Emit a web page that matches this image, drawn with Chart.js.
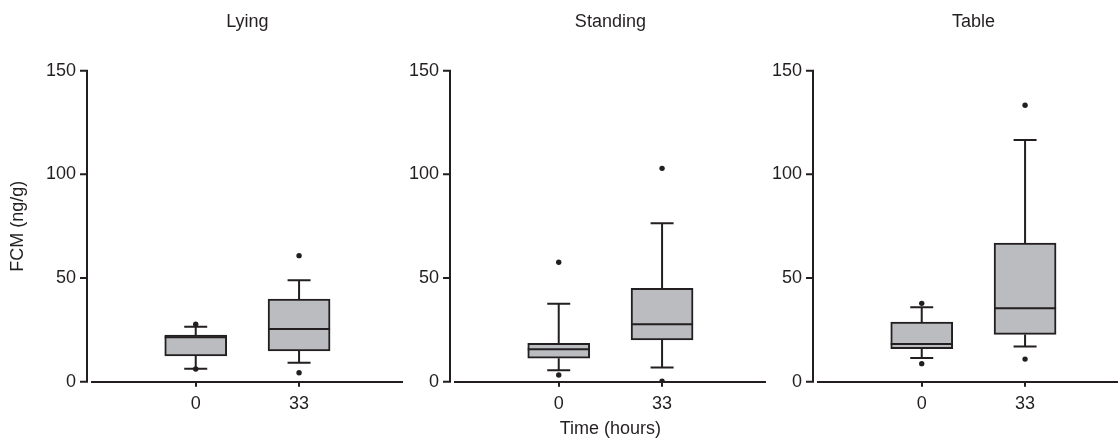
<!DOCTYPE html>
<html>
<head>
<meta charset="utf-8">
<script src="https://cdn.jsdelivr.net/npm/chart.js@4.4.1/dist/chart.umd.min.js"></script>
<style>
  html, body { margin: 0; padding: 0; background: #ffffff; width: 1118px; height: 442px; overflow: hidden; position: relative; }
  .panel { position: absolute; top: 0; width: 410px; height: 442px; }
</style>
</head>
<body>
<div class="panel" style="left:0px"><canvas id="c0" width="410" height="442"></canvas></div>
<div class="panel" style="left:363px"><canvas id="c1" width="410" height="442"></canvas></div>
<div class="panel" style="left:726px"><canvas id="c2" width="410" height="442"></canvas></div>
<script>
// ---------- data ----------
const timeLabels = ['0', '33'];                 // time (hours) categories
const panelTitles = ['Lying', 'Standing', 'Table'];
const yTickValues = [0, 50, 100, 150];
const yAxisTitle = 'FCM (ng/g)';
const xAxisTitle = 'Time (hours)';

// Lying
const lyingLow      = [6.3, 9.2];
const lyingQ1       = [12.4, 14.8];
const lyingMedian   = [21.4, 25.4];
const lyingQ3       = [22.5, 39.9];
const lyingHigh     = [26.5, 48.9];
const lyingOutliers = [[27.7, 6.1], [60.8, 4.3]];

// Standing
const standingLow      = [5.5, 6.8];
const standingQ1       = [11.3, 20.1];
const standingMedian   = [15.6, 27.7];
const standingQ3       = [18.5, 45.0];
const standingHigh     = [37.6, 76.4];
const standingOutliers = [[57.6, 3.2], [102.9, 0.3]];

// Table
const tableLow      = [11.4, 17.0];
const tableQ1       = [15.9, 22.8];
const tableMedian   = [18.2, 35.4];
const tableQ3       = [28.8, 66.9];
const tableHigh     = [35.9, 116.6];
const tableOutliers = [[37.8, 8.7], [133.3, 10.9]];

// ---------- styling ----------
const INK = '#231f20';
const BOX_FILL = '#bbbcbf';
const FONT = '"Liberation Sans", Arial, Helvetica, sans-serif';
const FONT_SIZE = 18;
const Y_AXIS_GAP = 5.4;   // gap between y axis line and start of x axis line
const Y_TICK_LEN = 7;
const CAP_HALF = 11.5;

Chart.defaults.font.family = FONT;
Chart.defaults.font.size = FONT_SIZE;
Chart.defaults.color = INK;

const panelStats = [
  { low: lyingLow, q1: lyingQ1, median: lyingMedian, q3: lyingQ3, high: lyingHigh, outliers: lyingOutliers },
  { low: standingLow, q1: standingQ1, median: standingMedian, q3: standingQ3, high: standingHigh, outliers: standingOutliers },
  { low: tableLow, q1: tableQ1, median: tableMedian, q3: tableQ3, high: tableHigh, outliers: tableOutliers }
];

function makeBoxPlugin(stats) {
  return {
    id: 'boxWhiskers',
    beforeDatasetsDraw(chart) {
      const xs = chart.scales.x, ys = chart.scales.y, ctx = chart.ctx;
      ctx.save();
      ctx.strokeStyle = INK;
      ctx.lineWidth = 2;
      stats.low.forEach((lo, i) => {
        const x = xs.getPixelForValue(i + 1);
        [[stats.q1[i], lo], [stats.q3[i], stats.high[i]]].forEach(([from, to]) => {
          const y0 = ys.getPixelForValue(from), y1 = ys.getPixelForValue(to);
          ctx.beginPath();
          ctx.moveTo(x, y0); ctx.lineTo(x, y1);
          ctx.moveTo(x - CAP_HALF, y1); ctx.lineTo(x + CAP_HALF, y1);
          ctx.stroke();
        });
      });
      ctx.restore();
    },
    afterDatasetDraw(chart, args) {
      if (args.meta.type !== 'bar') return;
      const ys = chart.scales.y, ctx = chart.ctx;
      ctx.save();
      ctx.strokeStyle = INK;
      ctx.lineWidth = 2;
      args.meta.data.forEach((bar, i) => {
        const props = bar.getProps(['x', 'width'], true);
        const y = ys.getPixelForValue(stats.median[i]);
        ctx.beginPath();
        ctx.moveTo(props.x - props.width / 2, y);
        ctx.lineTo(props.x + props.width / 2, y);
        ctx.stroke();
      });
      ctx.restore();
    },
    afterDraw(chart) {
      // y axis line and tick marks, placed from the y scale
      const ys = chart.scales.y, ctx = chart.ctx;
      const x = chart.chartArea.left - Y_AXIS_GAP;
      ctx.save();
      ctx.strokeStyle = INK;
      ctx.lineWidth = 2;
      ctx.beginPath();
      ctx.moveTo(x, ys.getPixelForValue(ys.max) - 1);
      ctx.lineTo(x, ys.getPixelForValue(ys.min) + 1);
      ys.ticks.forEach(t => {
        const py = ys.getPixelForValue(t.value);
        ctx.moveTo(x - Y_TICK_LEN, py);
        ctx.lineTo(x + 1, py);
      });
      ctx.stroke();
      ctx.restore();
    }
  };
}

panelStats.forEach((stats, p) => {
  const boxData = timeLabels.map((_, i) => ({ x: i + 1, y: [stats.q1[i], stats.q3[i]] }));
  const outlierData = [];
  stats.outliers.forEach((vals, i) => vals.forEach(v => outlierData.push({ x: i + 1, y: v })));

  new Chart(document.getElementById('c' + p), {
    type: 'bar',
    data: {
      datasets: [
        {
          type: 'bar',
          label: 'box',
          data: boxData,
          backgroundColor: BOX_FILL,
          borderColor: INK,
          borderWidth: 2,
          borderSkipped: false,
          barThickness: 62,
          order: 1
        },
        {
          type: 'scatter',
          label: 'outliers',
          data: outlierData,
          pointRadius: 2.7,
          pointBackgroundColor: INK,
          pointBorderWidth: 0,
          order: 0
        }
      ]
    },
    options: {
      responsive: false,
      animation: false,
      layout: { padding: { left: 0, right: 7.6, top: 0, bottom: 0 } },
      plugins: {
        legend: { display: false },
        tooltip: { enabled: false },
        title: {
          display: true,
          text: panelTitles[p],
          fullSize: false,
          color: INK,
          font: { size: FONT_SIZE, weight: 'normal' },
          padding: { top: 11.2, bottom: 37.9 }
        }
      },
      scales: {
        x: {
          type: 'linear',
          min: 0,
          max: 3,
          offset: false,
          afterBuildTicks: s => { s.ticks = timeLabels.map((_, i) => ({ value: i + 1 })); },
          afterFit: s => { s.height = 60.3; },
          ticks: {
            callback: v => timeLabels[v - 1],
            color: INK,
            padding: 7,
            maxRotation: 0
          },
          grid: {
            display: true,
            drawOnChartArea: false,
            drawTicks: true,
            tickLength: 5,
            lineWidth: 2,
            color: INK,
            offset: false
          },
          border: { display: true, color: INK, width: 2 },
          title: {
            display: p === 1,
            text: xAxisTitle,
            color: INK,
            padding: { top: 0, bottom: 1.7 }
          }
        },
        y: {
          type: 'linear',
          min: 0,
          max: 150,
          afterBuildTicks: s => { s.ticks = yTickValues.map(v => ({ value: v })); },
          afterFit: s => { s.width = 92.4; },
          ticks: { color: INK, padding: 16.4 },
          grid: { display: false, drawTicks: false },
          border: { display: false },
          title: {
            display: p === 0,
            text: yAxisTitle,
            color: INK,
            padding: { top: 7.2, bottom: 0 }
          }
        }
      }
    },
    plugins: [makeBoxPlugin(stats)]
  });
});
</script>
</body>
</html>
